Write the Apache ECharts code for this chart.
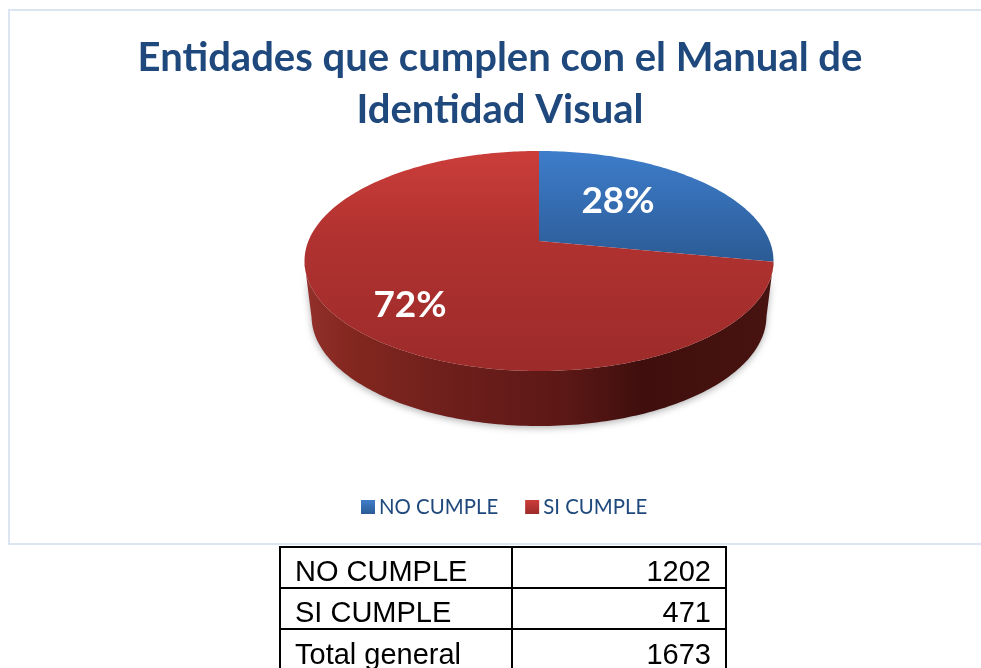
<!DOCTYPE html>
<html><head><meta charset="utf-8">
<style>html,body{margin:0;padding:0;background:#fff}#c{width:981px;height:668px}</style>
<script src="https://cdn.jsdelivr.net/npm/echarts@6/dist/echarts.min.js"></script>
</head><body><div id="c"></div>
<script>
// ---- data ----
const titleLines = ['Entidades que cumplen con el Manual de', 'Identidad Visual'];
const categories = ['NO CUMPLE', 'SI CUMPLE'];
const shares = [28, 72];
const tableLabels = ['NO CUMPLE', 'SI CUMPLE', 'Total general'];
const tableValues = [1202, 471, 1673];

// ---- layout / projection of the tilted disc ----
const CX = 539, CY = 241, UP = 90, DOWN = 130, HALF_W = 234.5, DEPTH = 55, BASE_SCALE = 0.97;
const K = (DOWN - UP) / (DOWN + UP), H = UP * (1 + K), R = HALF_W * Math.sqrt(1 - K * K);
const rim = deg => {
  const t = deg * Math.PI / 180, w = 1 + K * Math.cos(t);
  return [CX + R * Math.sin(t) / w, CY - H * Math.cos(t) / w];
};
const total = shares.reduce((a, b) => a + b, 0);
const LABEL_POS = [[618, 201], [410, 305]];
const TOP_COLORS = [
  [[0, '#3e7dcb'], [1, '#2b5b95']],
  [[0, '#cb3d39'], [0.4, '#b03230'], [1, '#9c2b2a']]
];
const TOP_SPAN = [[151, 262], [151, 371]];
const grad = (x, y, x2, y2, stops) => new echarts.graphic.LinearGradient(
  x, y, x2, y2, stops.map(s => ({offset: s[0], color: s[1]})), true);

function sectorItem(index) {
  return function (params, api) {
    const value = api.value(0);
    const before = shares.slice(0, index).reduce((a, b) => a + b, 0);
    const a0 = before / total * 360, a1 = a0 + value / total * 360;
    const pts = [[CX, CY]];
    for (let a = a0; a < a1; a += 1) pts.push(rim(a));
    pts.push(rim(a1));
    const children = [];
    // side wall: only the front half of the rim inside this sector
    const extreme = 180 / Math.PI * Math.acos(-K);
    const w0 = Math.max(a0, extreme), w1 = Math.min(a1, 360 - extreme);
    if (w1 > w0) {
      const upper = [], lower = [];
      for (let a = w0; a <= w1 + 1e-6; a += 1) {
        const p = rim(a);
        upper.push(p);
        lower.unshift([CX + (p[0] - CX) * BASE_SCALE, p[1] + DEPTH]);
      }
      children.push({
        type: 'polygon', shape: {points: upper.concat(lower)},
        style: {
          fill: grad(CX - HALF_W, 0, CX + HALF_W, 0, [
            [0, '#93302b'], [0.1, '#83271f'], [0.3, '#6f1f1c'], [0.55, '#5c1816'],
            [0.72, '#3f0f0d'], [1, '#481310']
          ]),
          shadowBlur: 7, shadowColor: 'rgba(0,0,0,0.3)', shadowOffsetY: 2
        }
      });
    }
    children.push({
      type: 'polygon', shape: {points: pts},
      style: {fill: grad(0, TOP_SPAN[index][0], 0, TOP_SPAN[index][1], TOP_COLORS[index])}
    });
    children.push({
      type: 'text', x: LABEL_POS[index][0], y: LABEL_POS[index][1],
      style: {
        text: value + '%', fill: '#fff', align: 'center', verticalAlign: 'middle',
        font: 'bold 37px Lato'
      }
    });
    return {type: 'group', children};
  };
}

// ---- table drawn as real text and rules ----
const TX = [280, 512, 726], TY = [547, 588, 629, 672], ROW_TEXT_Y = [573, 614, 656];
const tableGraphics = [];
TY.forEach(y => tableGraphics.push({type: 'line', shape: {x1: TX[0] - 1, y1: y, x2: TX[2] + 1, y2: y}, style: {stroke: '#000', lineWidth: 2}}));
TX.forEach(x => tableGraphics.push({type: 'line', shape: {x1: x, y1: TY[0], x2: x, y2: TY[3]}, style: {stroke: '#000', lineWidth: 2}}));
tableLabels.forEach((t, i) => {
  tableGraphics.push({type: 'text', x: 295, y: ROW_TEXT_Y[i], style: {text: t, fill: '#000', align: 'left', verticalAlign: 'middle', font: '29px "Liberation Sans"'}});
  tableGraphics.push({type: 'text', x: 711, y: ROW_TEXT_Y[i], style: {text: String(tableValues[i]), fill: '#000', align: 'right', verticalAlign: 'middle', font: '29px "Liberation Sans"'}});
});

const chart = echarts.init(document.getElementById('c'), null, {renderer: 'canvas'});
chart.setOption({
  animation: false,
  backgroundColor: '#fff',
  title: {
    text: titleLines.join('\n'), left: 495, top: 27, textAlign: 'center',
    textStyle: {fontFamily: 'Lato', fontWeight: 'bold', fontSize: 40, lineHeight: 52, color: '#1f497d'}
  },
  legend: {
    data: categories, left: 356, top: 492, itemWidth: 14, itemHeight: 14, itemGap: 27,
    icon: 'rect', textStyle: {fontFamily: 'Lato', fontSize: 20.4, color: '#1f497d', padding: [0, 0, 0, -1]}
  },
  graphic: [{
    type: 'rect', shape: {x: 9, y: 10, width: 1100, height: 534},
    style: {fill: 'none', stroke: '#dce6f2', lineWidth: 2}, z: -1
  }].concat(tableGraphics),
  series: categories.map((name, i) => ({
    type: 'custom', name, coordinateSystem: 'none',
    renderItem: sectorItem(i),
    itemStyle: {color: new echarts.graphic.LinearGradient(0, 0, 0, 1, i === 0
      ? [{offset: 0, color: '#3e7dcb'}, {offset: 1, color: '#2b5b95'}]
      : [{offset: 0, color: '#cb3d39'}, {offset: 1, color: '#9c2b2a'}])},
    data: [[shares[i]]]
  }))
});
</script></body></html>
